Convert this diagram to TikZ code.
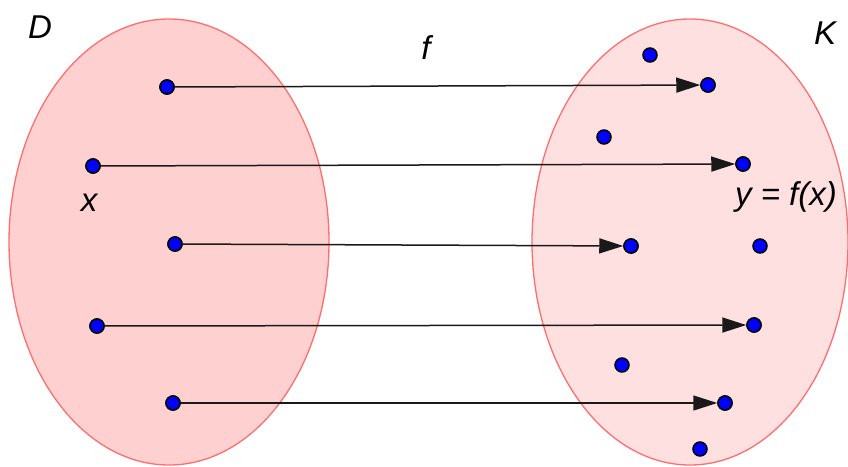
\documentclass[tikz,border=0pt]{standalone}
\usepackage{fontspec}
\setmainfont{Liberation Sans}
\usetikzlibrary{arrows.meta}
\definecolor{setedge}{HTML}{FF6E6E}
\definecolor{setD}{HTML}{FFD0D0}
\definecolor{setK}{HTML}{FFE0E0}
\definecolor{dotblue}{HTML}{0000FF}
\tikzset{
  pt/.style={circle,fill=dotblue,draw=black,line width=1.5pt,inner sep=0pt,minimum size=14pt},
  lab/.style={inner sep=0pt,font=\fontsize{33}{38}\selectfont\itshape},
  maparrow/.style={line width=1.5pt,draw=black!90,-{Triangle[length=24pt,width=15pt]}},
  setshape/.style={draw=setedge,line width=1.3pt}
}
\begin{document}
\begin{tikzpicture}[x=1pt,y=-1pt]
\useasboundingbox (0,0) rectangle (848,466);
\clip (0,0) rectangle (848,466);
\fill[white] (0,0) rectangle (848,466);
\path[setshape,fill=setD] (169,242) ellipse [x radius=160,y radius=223];
\path[setshape,fill=setK] (690,242) ellipse [x radius=158,y radius=223];
% domain points
\node[pt] (a1) at (167,87) {};
\node[pt] (a2) at (93,166) {};
\node[pt] (a3) at (175,244) {};
\node[pt] (a4) at (97,326) {};
\node[pt] (a5) at (173,403) {};
% codomain points
\node[pt] (b1) at (708,85) {};
\node[pt] (b2) at (743,164) {};
\node[pt] (b3) at (631,246) {};
\node[pt] (b4) at (754,325) {};
\node[pt] (b5) at (725,403) {};
\node[pt] (c1) at (650,55) {};
\node[pt] (c2) at (604,137) {};
\node[pt] (c3) at (760,246) {};
\node[pt] (c4) at (622,365) {};
\node[pt] (c5) at (700,449) {};
% arrows
\draw[maparrow] (a1) -- (b1);
\draw[maparrow] (a2) -- (b2);
\draw[maparrow] (a3) -- (b3);
\draw[maparrow] (a4) -- (b4);
\draw[maparrow] (a5) -- (b5);
% redraw points on top
\foreach \n in {a1,a2,a3,a4,a5,b1,b2,b3,b4,b5}{\node[pt] at (\n) {};}
% labels
\node[lab] (lD) at (40,27) {D};
\node[lab] (lK) at (825,33) {K};
\node[lab] (lf) at (426,48) {f};
\node[lab] (lx) at (89,203) {x};
\node[lab] (ly) at (786,197) {y = f(x)};
\end{tikzpicture}
\end{document}
